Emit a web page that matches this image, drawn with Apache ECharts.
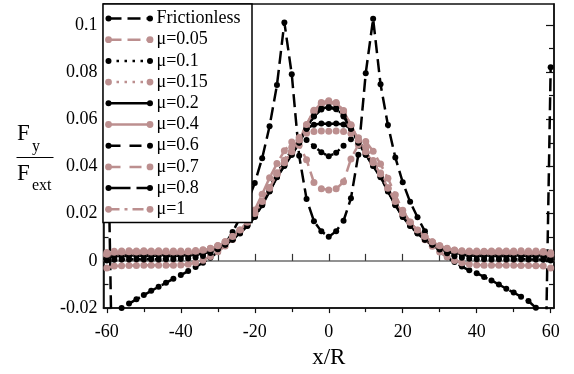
<!DOCTYPE html>
<html>
<head>
<meta charset="utf-8">
<script src="https://cdn.jsdelivr.net/npm/echarts@6/dist/echarts.min.js"></script>
<style>
  html, body { margin: 0; padding: 0; background: #fff; }
  #chart { width: 574px; height: 374px; }
</style>
</head>
<body>
<div id="chart"></div>
<script>
// Positions along the channel, x/R
const xs = [-60,-58,-56,-54,-52,-50,-48,-46,-44,-42,-40,-38,-36,-34,-32,-30,-28,-26,-24,-22,-20,-18,-16,-14,-12,-10,-8,-6,-4,-2,0,2,4,6,8,10,12,14,16,18,20,22,24,26,28,30,32,34,36,38,40,42,44,46,48,50,52,54,56,58,60];

// Fy / Fext for each friction coefficient
const frictionless = [0.082,-0.100,-0.0200,-0.0181,-0.0163,-0.0145,-0.0127,-0.0110,-0.0093,-0.0076,-0.0060,-0.0043,-0.0026,-0.0008,0.0013,0.0038,0.0072,0.0122,0.0182,0.0248,0.0330,0.0435,0.0570,0.0745,0.1010,0.0790,0.0445,0.0262,0.0168,0.0125,0.0102,0.0126,0.0170,0.0265,0.0450,0.0795,0.1025,0.0748,0.0575,0.0438,0.0333,0.0250,0.0185,0.0125,0.0075,0.0040,0.0015,-0.0005,-0.0024,-0.0040,-0.0052,-0.0068,-0.0083,-0.0100,-0.0118,-0.0134,-0.0152,-0.0170,-0.0199,-0.100,0.082];
const mu005 = [-0.0030,-0.0022,-0.0021,-0.0020,-0.0020,-0.0019,-0.0019,-0.0018,-0.0019,-0.0018,-0.0017,-0.0014,-0.0008,0.0003,0.0019,0.0039,0.0063,0.0091,0.0126,0.0166,0.0216,0.0282,0.0352,0.0412,0.0466,0.0504,0.0490,0.0428,0.0332,0.0306,0.0300,0.0305,0.0335,0.0432,0.0492,0.0506,0.0464,0.0410,0.0350,0.0280,0.0214,0.0165,0.0125,0.0090,0.0062,0.0038,0.0018,0.0002,-0.0008,-0.0014,-0.0017,-0.0018,-0.0019,-0.0018,-0.0019,-0.0019,-0.0020,-0.0020,-0.0021,-0.0022,-0.0030];
const mu01 = [0.0002,0.0005,0.0006,0.0006,0.0007,0.0006,0.0007,0.0006,0.0007,0.0007,0.0008,0.0010,0.0014,0.0021,0.0033,0.0049,0.0069,0.0093,0.0123,0.0159,0.0199,0.0251,0.0311,0.0371,0.0421,0.0471,0.0511,0.0512,0.0486,0.0460,0.0443,0.0458,0.0488,0.0515,0.0510,0.0470,0.0420,0.0370,0.0310,0.0250,0.0198,0.0158,0.0122,0.0092,0.0068,0.0048,0.0032,0.0020,0.0013,0.0009,0.0007,0.0007,0.0006,0.0007,0.0006,0.0006,0.0007,0.0006,0.0006,0.0005,0.0002];
const mu015 = [0.0035,0.0041,0.0042,0.0043,0.0042,0.0043,0.0042,0.0043,0.0042,0.0042,0.0042,0.0042,0.0044,0.0047,0.0054,0.0065,0.0081,0.0103,0.0131,0.0163,0.0201,0.0251,0.0311,0.0373,0.0426,0.0481,0.0523,0.0541,0.0548,0.0550,0.0549,0.0550,0.0548,0.0540,0.0522,0.0480,0.0425,0.0372,0.0310,0.0250,0.0200,0.0162,0.0130,0.0102,0.0080,0.0064,0.0053,0.0046,0.0043,0.0042,0.0042,0.0041,0.0042,0.0043,0.0042,0.0042,0.0043,0.0042,0.0042,0.0040,0.0034];
const mu02 = [0.0020,0.0025,0.0026,0.0026,0.0027,0.0026,0.0027,0.0026,0.0026,0.0027,0.0026,0.0027,0.0029,0.0034,0.0042,0.0054,0.0071,0.0093,0.0120,0.0152,0.0190,0.0240,0.0298,0.0360,0.0410,0.0460,0.0512,0.0560,0.0577,0.0582,0.0580,0.0582,0.0578,0.0560,0.0512,0.0460,0.0410,0.0360,0.0298,0.0240,0.0190,0.0152,0.0120,0.0093,0.0071,0.0054,0.0042,0.0034,0.0029,0.0027,0.0026,0.0026,0.0027,0.0026,0.0026,0.0027,0.0026,0.0026,0.0025,0.0024,0.0020];
const mu04 = [0.0025,0.0033,0.0034,0.0034,0.0035,0.0034,0.0034,0.0035,0.0034,0.0034,0.0034,0.0035,0.0037,0.0042,0.0050,0.0062,0.0079,0.0101,0.0129,0.0162,0.0199,0.0249,0.0306,0.0366,0.0414,0.0460,0.0510,0.0575,0.0635,0.0668,0.0675,0.0668,0.0634,0.0574,0.0510,0.0460,0.0414,0.0366,0.0306,0.0249,0.0199,0.0162,0.0129,0.0101,0.0079,0.0062,0.0050,0.0042,0.0037,0.0035,0.0034,0.0034,0.0035,0.0034,0.0034,0.0034,0.0035,0.0034,0.0034,0.0032,0.0025];
const mu06 = [0.0017,0.0022,0.0023,0.0023,0.0024,0.0023,0.0024,0.0023,0.0024,0.0023,0.0024,0.0025,0.0028,0.0033,0.0041,0.0053,0.0070,0.0091,0.0118,0.0150,0.0188,0.0238,0.0296,0.0356,0.0404,0.0450,0.0500,0.0560,0.0612,0.0641,0.0648,0.0642,0.0612,0.0560,0.0500,0.0450,0.0404,0.0356,0.0296,0.0238,0.0188,0.0150,0.0118,0.0091,0.0070,0.0053,0.0041,0.0033,0.0028,0.0025,0.0024,0.0023,0.0024,0.0023,0.0024,0.0023,0.0024,0.0023,0.0023,0.0022,0.0017];
const mu07 = [0.0022,0.0029,0.0030,0.0031,0.0030,0.0031,0.0030,0.0030,0.0031,0.0030,0.0031,0.0032,0.0035,0.0040,0.0048,0.0060,0.0077,0.0099,0.0127,0.0160,0.0197,0.0247,0.0304,0.0364,0.0412,0.0458,0.0508,0.0572,0.0630,0.0663,0.0670,0.0664,0.0631,0.0572,0.0508,0.0458,0.0412,0.0364,0.0304,0.0247,0.0197,0.0160,0.0127,0.0099,0.0077,0.0060,0.0048,0.0040,0.0035,0.0032,0.0031,0.0030,0.0031,0.0030,0.0031,0.0030,0.0031,0.0030,0.0030,0.0029,0.0022];
const mu08 = [0.0015,0.0020,0.0021,0.0021,0.0022,0.0021,0.0021,0.0022,0.0021,0.0021,0.0022,0.0023,0.0026,0.0031,0.0039,0.0051,0.0068,0.0089,0.0116,0.0148,0.0186,0.0236,0.0294,0.0354,0.0402,0.0449,0.0501,0.0562,0.0615,0.0645,0.0652,0.0646,0.0616,0.0562,0.0501,0.0449,0.0402,0.0354,0.0294,0.0236,0.0186,0.0148,0.0116,0.0089,0.0068,0.0051,0.0039,0.0031,0.0026,0.0023,0.0022,0.0021,0.0021,0.0022,0.0021,0.0021,0.0022,0.0021,0.0021,0.0020,0.0015];
const mu1 = [0.0028,0.0037,0.0038,0.0039,0.0038,0.0039,0.0038,0.0038,0.0039,0.0038,0.0038,0.0039,0.0041,0.0045,0.0052,0.0064,0.0081,0.0103,0.0131,0.0164,0.0201,0.0251,0.0308,0.0368,0.0416,0.0462,0.0512,0.0578,0.0638,0.0671,0.0678,0.0671,0.0637,0.0577,0.0512,0.0462,0.0416,0.0368,0.0308,0.0251,0.0201,0.0164,0.0131,0.0103,0.0081,0.0064,0.0052,0.0045,0.0041,0.0039,0.0038,0.0039,0.0038,0.0038,0.0039,0.0038,0.0039,0.0038,0.0038,0.0037,0.0028];

// Axis ticks and labels
const xLabelValues = [-60,-40,-20,0,20,40,60];
const xMinorValues = [-50,-30,-10,10,30,50];
const xZeroLineTicks = [-60,-50,-40,-30,-20,-10,0,10,20,30,40,50,60];
const yLabelValues = [-0.02,0,0.02,0.04,0.06,0.08,0.1];
const yMinorValues = [-0.01,0.01,0.03,0.05,0.07,0.09];

const BLACK = '#000000';
const BROWN = '#bc8f8f';
const SERIF = '"Liberation Serif", "DejaVu Serif", serif';

const curves = [
  { name: 'Frictionless', values: frictionless, color: BLACK, dash: [13, 6] },
  { name: 'μ=0.05', values: mu005, color: BROWN, dash: [13, 6] },
  { name: 'μ=0.1', values: mu01, color: BLACK, dash: [2.5, 5.5] },
  { name: 'μ=0.15', values: mu015, color: BROWN, dash: [2.5, 5.5] },
  { name: 'μ=0.2', values: mu02, color: BLACK, dash: null },
  { name: 'μ=0.4', values: mu04, color: BROWN, dash: null },
  { name: 'μ=0.6', values: mu06, color: BLACK, dash: [12, 9] },
  { name: 'μ=0.7', values: mu07, color: BROWN, dash: [12, 9] },
  { name: 'μ=0.8', values: mu08, color: BLACK, dash: [22, 6] },
  { name: 'μ=1', values: mu1, color: BROWN, dash: [11, 5, 3, 5] }
];

const X_MIN = -60.9, X_MAX = 60.9;
const Y_MIN = -0.02, Y_MAX = 0.1088;

const series = curves.map(c => ({
  name: c.name,
  type: 'line',
  data: xs.map((x, i) => [x, c.values[i]]),
  symbol: 'circle',
  symbolSize: c.color === BROWN ? 7 : 6,
  itemStyle: { color: c.color },
  lineStyle: { color: c.color, width: 2.5, type: c.dash || 'solid' },
  clip: true,
  z: 3
}));

// Legend box drawn as graphics: sample line with end markers, then the label
const legendGraphics = [{
  type: 'rect', z: 100,
  shape: { x: 103, y: 4, width: 149, height: 218.5 },
  style: { fill: '#fff', stroke: '#000', lineWidth: 1.5 }
}];
curves.forEach((c, i) => {
  const y = 18.5 + 21.2 * i;
  const r = c.color === BROWN ? 3.4 : 3;
  legendGraphics.push({
    type: 'line', z: 101,
    shape: { x1: 108.5, y1: y, x2: 150, y2: y },
    style: { stroke: c.color, lineWidth: 2.5, lineDash: c.dash || null }
  });
  legendGraphics.push({ type: 'circle', z: 102, shape: { cx: 108.5, cy: y, r: r }, style: { fill: c.color } });
  legendGraphics.push({ type: 'circle', z: 102, shape: { cx: 150, cy: y, r: r }, style: { fill: c.color } });
  legendGraphics.push({
    type: 'text', z: 102,
    style: { text: c.name, x: 156.5, y: y, font: '18px ' + SERIF, fill: '#000', verticalAlign: 'middle' }
  });
});

// Vertical-axis title as a stacked fraction Fy / Fext
const yTitle = [
  { type: 'text', style: { text: 'F', x: 17, y: 134, font: '23px ' + SERIF, fill: '#000', verticalAlign: 'middle' } },
  { type: 'text', style: { text: 'y', x: 32, y: 147, font: '16px ' + SERIF, fill: '#000', verticalAlign: 'middle' } },
  { type: 'line', shape: { x1: 16.5, y1: 157.5, x2: 53.5, y2: 157.5 }, style: { stroke: '#000', lineWidth: 1.2 } },
  { type: 'text', style: { text: 'F', x: 17, y: 174, font: '23px ' + SERIF, fill: '#000', verticalAlign: 'middle' } },
  { type: 'text', style: { text: 'ext', x: 32, y: 186, font: '16px ' + SERIF, fill: '#000', verticalAlign: 'middle' } }
];

const labelFont = { fontFamily: SERIF, fontSize: 18, color: '#000' };

const chart = echarts.init(document.getElementById('chart'), null, { renderer: 'canvas' });
chart.setOption({
  animation: false,
  backgroundColor: '#fff',
  grid: {
    left: 103.5, right: 20, top: 4, bottom: 61,
    show: true, borderColor: '#111', borderWidth: 1.5, backgroundColor: 'transparent'
  },
  xAxis: [
    {
      type: 'value', min: X_MIN, max: X_MAX, position: 'bottom',
      name: 'x/R', nameLocation: 'middle', nameGap: 29,
      nameTextStyle: { fontFamily: SERIF, fontSize: 23, color: '#000' },
      axisLine: { onZero: false, lineStyle: { color: '#111', width: 1.5 } },
      axisTick: { inside: false, length: 5, customValues: xLabelValues, lineStyle: { color: '#111', width: 1.2 } },
      axisLabel: Object.assign({ margin: 15, customValues: xLabelValues }, labelFont),
      splitLine: { show: false }
    },
    {
      type: 'value', min: X_MIN, max: X_MAX, position: 'bottom',
      axisLine: { show: false, onZero: false },
      axisTick: { inside: false, length: 4, customValues: xMinorValues, lineStyle: { color: '#111', width: 1.2 } },
      axisLabel: { show: false },
      splitLine: { show: false }
    },
    {
      // zero line with upward ticks
      type: 'value', min: X_MIN, max: X_MAX, position: 'bottom',
      axisLine: { show: true, onZero: true, onZeroAxisIndex: 0, lineStyle: { color: '#6e6e6e', width: 1.5 } },
      axisTick: { inside: true, length: 7, customValues: xZeroLineTicks, lineStyle: { color: '#333', width: 1.2 } },
      axisLabel: { show: false },
      splitLine: { show: false }
    }
  ],
  yAxis: [
    {
      type: 'value', min: Y_MIN, max: Y_MAX, position: 'left',
      axisLine: { onZero: false, lineStyle: { color: '#111', width: 1.5 } },
      axisTick: { inside: true, length: 8, customValues: yLabelValues, lineStyle: { color: '#111', width: 1.2 } },
      axisLabel: Object.assign({ margin: 6, customValues: yLabelValues }, labelFont),
      splitLine: { show: false }
    },
    {
      type: 'value', min: Y_MIN, max: Y_MAX, position: 'left',
      axisLine: { show: false, onZero: false },
      axisTick: { inside: true, length: 5, customValues: yMinorValues, lineStyle: { color: '#111', width: 1.2 } },
      axisLabel: { show: false },
      splitLine: { show: false }
    },
    {
      type: 'value', min: Y_MIN, max: Y_MAX, position: 'right',
      axisLine: { onZero: false, lineStyle: { color: '#111', width: 1.5 } },
      axisTick: { inside: true, length: 8, customValues: yLabelValues, lineStyle: { color: '#111', width: 1.2 } },
      axisLabel: { show: false },
      splitLine: { show: false }
    },
    {
      type: 'value', min: Y_MIN, max: Y_MAX, position: 'right',
      axisLine: { show: false, onZero: false },
      axisTick: { inside: true, length: 5, customValues: yMinorValues, lineStyle: { color: '#111', width: 1.2 } },
      axisLabel: { show: false },
      splitLine: { show: false }
    }
  ],
  series: series,
  graphic: legendGraphics.concat(yTitle)
});
</script>
</body>
</html>
